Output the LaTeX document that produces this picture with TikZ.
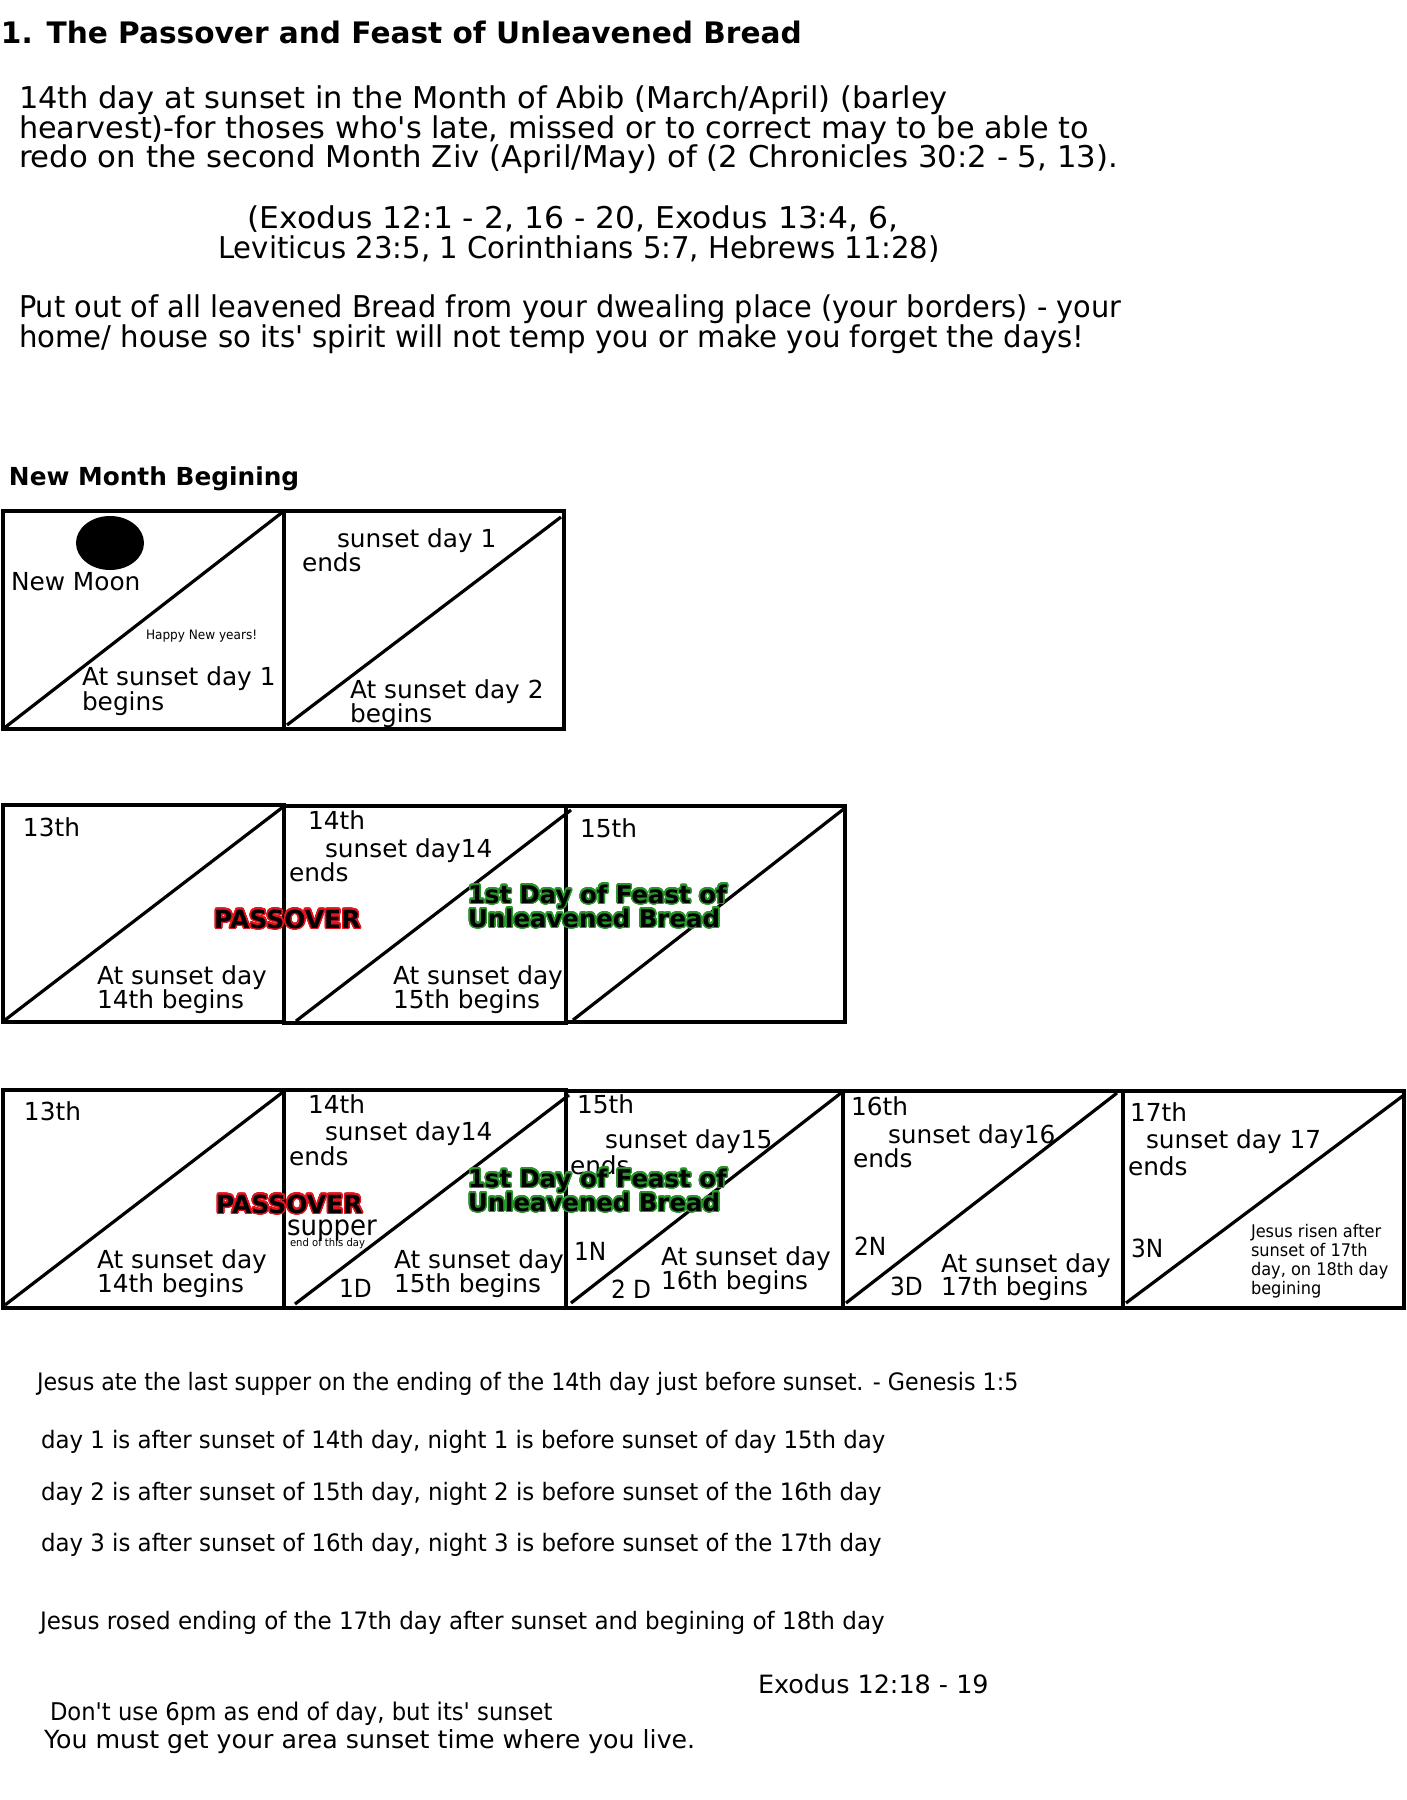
\documentclass[tikz,border=0pt]{standalone}
\usepackage{graphicx}
\usepackage{fontspec}
\setmainfont{DejaVu Sans}
\newfontfamily\verd{DejaVu Sans}
\newfontfamily\tah[FakeStretch=0.93]{DejaVu Sans}
\usepackage{contour}
\contourlength{0.75pt}
\contournumber{32}
\definecolor{passred}{RGB}{230,20,30}
\definecolor{feastgreen}{RGB}{40,150,40}
\newcommand{\sx}[2]{\scalebox{#1}[1]{#2}}
\begin{document}
\begin{tikzpicture}[x=0.5pt,y=-0.5pt,
  t/.style={anchor=base west, inner sep=0pt, outer sep=0pt, font=\verd\fontsize{12.4}{14}\selectfont},
  p/.style={t, font=\verd\fontsize{15}{15}\selectfont},
  tt/.style={anchor=base west, inner sep=0pt, outer sep=0pt, font=\tah\fontsize{#1}{#1}\selectfont},
  tt/.default=12,
  hd/.style={t, font=\verd\bfseries\fontsize{#1}{#1}\selectfont},
  boxln/.style={draw, line width=1.65pt},
  diag/.style={line width=1.6pt},
  pass/.style={hd=12.5},
]
\useasboundingbox (0,0) rectangle (1407,1800);
\fill[white] (0,0) rectangle (1407,1800);

% ---------- header ----------
\node[hd=14.8] (title) at (1,43) {1. The Passover and Feast of Unleavened Bread};
\node[p] (l1) at (19,108) {\sx{1.015}{14th day at sunset in the Month of Abib (March/April) (barley}};
\node[p] (l2) at (19,138) {\sx{1.009}{hearvest)-for thoses who's late, missed or to correct may to be able to}};
\node[p] (l3) at (19,167) {\sx{1.025}{redo on the second Month Ziv (April/May) of (2 Chronicles 30:2 - 5, 13).}};
\node[p, anchor=base] (ex1) at (573,228) {\sx{1.046}{(Exodus 12:1 - 2, 16 - 20, Exodus 13:4, 6,}};
\node[p, anchor=base] (ex2) at (579,258) {\sx{0.972}{Leviticus 23:5, 1 Corinthians 5:7, Hebrews 11:28)}};
\node[p] (po1) at (19,317) {\sx{0.96}{Put out of all leavened Bread from your dwealing place (your borders) - your}};
\node[p] (po2) at (19,347) {\sx{0.973}{home/ house so its' spirit will not temp you or make you forget the days!}};

\node[hd=12.4] (nmb) at (9,485) {New Month Begining};

% ---------- row 1 ----------
\draw[boxln] (3,511) rectangle (284,729);
\draw[boxln] (284,511) rectangle (564,729);
\draw[diag] (3,729) -- (284,511);
\draw[diag] (287,725) -- (561,517);
\fill (110,543) ellipse [x radius=17pt, y radius=13.5pt];
\node[t] (nm) at (11,590) {New Moon};
\node[tt=6.5] (hny) at (146,639) {Happy New years!};
\node[t] (a1) at (82,685) {At sunset day 1};
\node[t] (a1b) at (82,710) {begins};
\node[t] (s1) at (337,547) {sunset day 1};
\node[t] (s1e) at (302,571) {ends};
\node[t] (a2) at (350,698) {At sunset day 2};
\node[t] (a2b) at (350,722) {begins};

% ---------- row 2 ----------
\draw[boxln] (3,805) rectangle (284,1022);
\draw[boxln] (284,806) rectangle (566,1023);
\draw[boxln] (566,806) rectangle (845,1022);
\draw[diag] (5,1020) -- (283,807);
\draw[diag] (296,1021) -- (571,810);
\draw[diag] (573,1020) -- (845,808);
\node[t] (b13) at (23,836) {13th};
\node[t] (b14) at (308,829) {14th};
\node[t] (b14s) at (325,857) {sunset day14};
\node[t] (b14e) at (289,881) {ends};
\node[t] (b15) at (580,837) {15th};
\node[pass] (pass2) at (214,928) {\contour{passred}{PASSOVER}};
\node[hd=12.2] (f2a) at (468,903) {\contour{feastgreen}{1st Day of Feast of}};
\node[hd=12.2] (f2b) at (468,927) {\contour{feastgreen}{Unleavened Bread}};
\node[t] (c1) at (97,984) {At sunset day};
\node[t] (c1b) at (97,1008) {14th begins};
\node[t] (c2) at (393,984) {At sunset day};
\node[t] (c2b) at (393,1008) {15th begins};

% ---------- row 3 ----------
\draw[boxln] (3,1090) rectangle (284,1308);
\draw[boxln] (284,1090) rectangle (566,1308);
\draw[boxln] (566,1091) rectangle (843,1308);
\draw[boxln] (843,1091) rectangle (1123,1308);
\draw[boxln] (1123,1091) rectangle (1404,1308);
\draw[diag] (5,1305) -- (283,1092);
\draw[diag] (295,1304) -- (569,1095);
\draw[diag] (571,1303) -- (841,1093);
\draw[diag] (846,1303) -- (1117,1093);
\draw[diag] (1126,1303) -- (1404,1095);

\node[t] (d13) at (24,1120) {13th};
\node[pass] (pass3) at (216,1213) {\contour{passred}{PASSOVER}};
\node[t] (e1) at (97,1268) {At sunset day};
\node[t] (e1b) at (97,1292) {14th begins};

\node[t] (d14) at (308,1113) {14th};
\node[t] (d14s) at (325,1140) {sunset day14};
\node[t] (d14e) at (289,1165) {ends};
\node[tt=14] (sup) at (287,1235) {supper};
\node[tt=5.4] (eotd) at (290,1246) {end of this day};
\node[tt=12.5] (n1d) at (339,1297) {1D};
\node[t] (e2) at (394,1268) {At sunset day};
\node[t] (e2b) at (394,1292) {15th begins};

\node[t] (d15) at (577,1113) {15th};
\node[t] (d15s) at (605,1148) {sunset day15};
\node[t] (d15e) at (570,1174) {ends};
\node[hd=12.2] (f3a) at (468,1187) {\contour{feastgreen}{1st Day of Feast of}};
\node[hd=12.2] (f3b) at (468,1211) {\contour{feastgreen}{Unleavened Bread}};
\node[tt=12.5] (n1n) at (574,1260) {1N};
\node[tt=12.5] (n2d) at (611,1298) {2 D};
\node[t] (e3) at (661,1265) {At sunset day};
\node[t] (e3b) at (661,1289) {16th begins};

\node[t] (d16) at (851,1115) {16th};
\node[t] (d16s) at (888,1143) {sunset day16};
\node[t] (d16e) at (853,1167) {ends};
\node[tt=12.5] (n2n) at (854,1255) {2N};
\node[tt=12.5] (n3d) at (890,1295) {3D};
\node[t] (e4) at (941,1272) {At sunset day};
\node[t] (e4b) at (941,1295) {17th begins};

\node[t] (d17) at (1130,1121) {17th};
\node[t] (d17s) at (1146,1148) {sunset day 17};
\node[t] (d17e) at (1128,1175) {ends};
\node[tt=12.5] (n3n) at (1131,1257) {3N};
\node[tt=8.7] (jr1) at (1251,1237) {Jesus risen after};
\node[tt=8.7] (jr2) at (1251,1256) {sunset of 17th};
\node[tt=8.7] (jr3) at (1251,1275) {day, on 18th day};
\node[tt=8.7] (jr4) at (1251,1294) {begining};

% ---------- bottom text ----------
\node[tt=12] (bt1) at (37,1390) {\sx{0.993}{Jesus ate the last supper on the ending of the 14th day just before sunset. - Genesis 1:5}};
\node[tt=12] (bt2) at (41,1448) {\sx{1.024}{day 1 is after sunset of 14th day, night 1 is before sunset of day 15th day}};
\node[tt=12] (bt3) at (41,1500) {\sx{1.025}{day 2 is after sunset of 15th day, night 2 is before sunset of the 16th day}};
\node[tt=12] (bt4) at (41,1551) {\sx{1.025}{day 3 is after sunset of 16th day, night 3 is before sunset of the 17th day}};
\node[tt=12] (bt5) at (40,1629) {\sx{1.032}{Jesus rosed ending of the 17th day after sunset and begining of 18th day}};
\node[t, font=\verd\fontsize{12.6}{14}\selectfont] (exr) at (758,1693) {\sx{1.01}{Exodus 12:18 - 19}};
\node[tt=12.2] (dont) at (50,1720) {Don't use 6pm as end of day, but its' sunset};
\node[t, font=\verd\fontsize{12.5}{14}\selectfont] (must) at (44,1748) {\sx{1.01}{You must get your area sunset time where you live.}};
\end{tikzpicture}
\end{document}
